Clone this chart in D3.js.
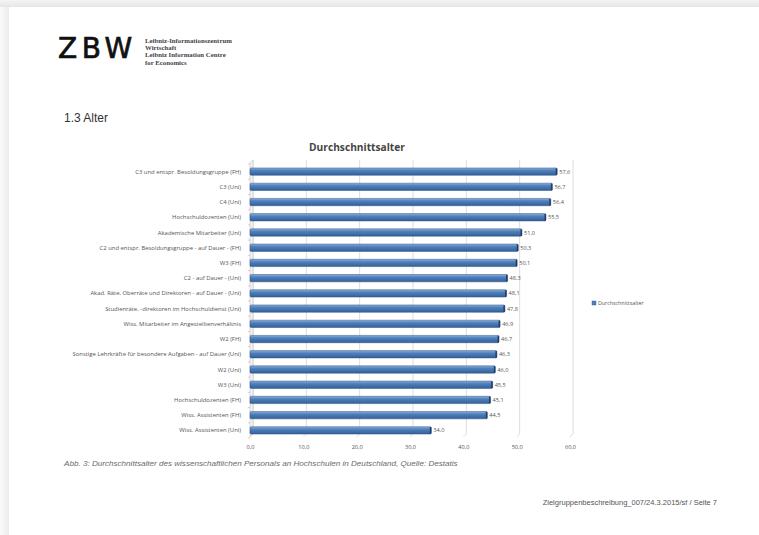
<!DOCTYPE html>
<html>
<head>
<meta charset="utf-8">
<script src="https://cdn.jsdelivr.net/npm/d3@7"></script>
<style>
  html, body { margin: 0; padding: 0; background: #fff; }
  svg { display: block; }
</style>
</head>
<body>
<svg id="page" width="759" height="535"></svg>
<script>
// categories top to bottom, as in the chart
const categories = [
  'C3 und entspr. Besoldungsgruppe (FH)',
  'C3 (Uni)',
  'C4 (Uni)',
  'Hochschuldozenten (Uni)',
  'Akademische Mitarbeiter (Uni)',
  'C2 und entspr. Besoldungsgruppe - auf Dauer - (FH)',
  'W3 (FH)',
  'C2 - auf Dauer - (Uni)',
  'Akad. Räte, Oberräte und Direktoren - auf Dauer - (Uni)',
  'Studienräte, -direktoren im Hochschuldienst (Uni)',
  'Wiss. Mitarbeiter im Angestelltenverhältnis',
  'W2 (FH)',
  'Sonstige Lehrkräfte für besondere Aufgaben - auf Dauer (Uni)',
  'W2 (Uni)',
  'W3 (Uni)',
  'Hochschuldozenten (FH)',
  'Wiss. Assistenten (FH)',
  'Wiss. Assistenten (Uni)'
];
const values = [57.6, 56.7, 56.4, 55.5, 51.0, 50.3, 50.1, 48.3, 48.1, 47.8, 46.9, 46.7, 46.3, 46.0, 45.5, 45.1, 44.5, 34.0];
const xTicks = [0, 10, 20, 30, 40, 50, 60];
const seriesName = 'Durchschnittsalter';

const fmt = v => d3.format('.1f')(v).replace('.', ',');

const svg = d3.select('#page');

// page edge shading
const defs = svg.append('defs');
const edgeTop = defs.append('linearGradient').attr('id', 'edgeTop').attr('x1', 0).attr('y1', 0).attr('x2', 0).attr('y2', 1);
edgeTop.append('stop').attr('offset', '0%').attr('stop-color', '#f4f4f4');
edgeTop.append('stop').attr('offset', '100%').attr('stop-color', '#e6e6e6');
const edgeLeft = defs.append('linearGradient').attr('id', 'edgeLeft').attr('x1', 0).attr('y1', 0).attr('x2', 1).attr('y2', 0);
edgeLeft.append('stop').attr('offset', '0%').attr('stop-color', '#fafafa');
edgeLeft.append('stop').attr('offset', '100%').attr('stop-color', '#ececec');
svg.append('rect').attr('x', 0).attr('y', 0).attr('width', 759).attr('height', 7).attr('fill', 'url(#edgeTop)');
svg.append('rect').attr('x', 0).attr('y', 7).attr('width', 9).attr('height', 528).attr('fill', 'url(#edgeLeft)');

// bar gradient (3D-ish cylinder look)
const barGrad = defs.append('linearGradient').attr('id', 'barGrad').attr('x1', 0).attr('y1', 0).attr('x2', 0).attr('y2', 1);
barGrad.append('stop').attr('offset', '0%').attr('stop-color', '#8fb0dc');
barGrad.append('stop').attr('offset', '35%').attr('stop-color', '#4f81bd');
barGrad.append('stop').attr('offset', '100%').attr('stop-color', '#345f96');

// logo
svg.append('text')
  .attr('x', 58).attr('y', 58)
  .attr('font-family', 'DejaVu Sans, sans-serif')
  .attr('font-size', 28)
  .attr('letter-spacing', 4.5)
  .attr('fill', '#111')
  .attr('stroke', '#111').attr('stroke-width', 0.7)
  .text('ZBW');
const logoLines = ['Leibniz-Informationszentrum', 'Wirtschaft', 'Leibniz Information Centre', 'for Economics'];
svg.append('g').selectAll('text')
  .data(logoLines)
  .join('text')
  .attr('x', 145)
  .attr('y', (d, i) => 42.5 + i * 7.4)
  .attr('font-family', 'Liberation Serif, serif')
  .attr('font-weight', 'bold')
  .attr('font-size', 6.8)
  .attr('fill', '#444')
  .text(d => d);

// section heading
svg.append('text')
  .attr('x', 64).attr('y', 122)
  .attr('font-family', 'Liberation Sans, Arial, sans-serif')
  .attr('font-size', 12)
  .attr('fill', '#333')
  .text('1.3 Alter');

// chart title
svg.append('text')
  .attr('x', 357).attr('y', 151)
  .attr('text-anchor', 'middle')
  .attr('font-family', 'Open Sans, sans-serif')
  .attr('font-weight', 'bold')
  .attr('font-size', 10.2)
  .attr('fill', '#444')
  .text('Durchschnittsalter');

// scales
const x = d3.scaleLinear().domain([0, 60]).range([250, 570]);
const y = d3.scaleBand().domain(categories).range([164, 438]).paddingInner(0.52).paddingOuter(0.26);

const plotTop = 160, plotBottom = 437, depth = 3;

// back-wall gridlines
const grid = svg.append('g');
grid.selectAll('line')
  .data(xTicks)
  .join('line')
  .attr('x1', d => x(d) + depth).attr('x2', d => x(d) + depth)
  .attr('y1', plotTop).attr('y2', plotBottom - depth)
  .attr('stroke', '#d4d4d4').attr('stroke-width', 0.8);
// floor diagonals
grid.selectAll('path')
  .data(xTicks)
  .join('path')
  .attr('d', d => `M${x(d)},${plotBottom}L${x(d) + depth},${plotBottom - depth}`)
  .attr('stroke', '#d4d4d4').attr('stroke-width', 0.8).attr('fill', 'none');
// left wall
svg.append('path')
  .attr('d', `M${x(0)},${plotTop + depth}L${x(0) + depth},${plotTop}L${x(0) + depth},${plotBottom - depth}L${x(0)},${plotBottom}Z`)
  .attr('fill', '#f3f3f3').attr('stroke', '#c8c8c8').attr('stroke-width', 0.7);
// left-axis ticks between categories
svg.append('g').selectAll('line')
  .data(d3.range(categories.length + 1))
  .join('line')
  .attr('x1', x(0) - 2).attr('x2', x(0))
  .attr('y1', i => 164 + i * y.step()).attr('y2', i => 164 + i * y.step())
  .attr('stroke', '#c9a27a').attr('stroke-width', 0.5);

// bars
const bars = svg.append('g');
bars.selectAll('rect')
  .data(values)
  .join('rect')
  .attr('x', x(0))
  .attr('y', (d, i) => y(categories[i]))
  .attr('width', d => x(d) - x(0))
  .attr('height', y.bandwidth())
  .attr('rx', 1.2)
  .attr('fill', 'url(#barGrad)')
  .attr('stroke', '#2c5383').attr('stroke-width', 0.5);
// dark end caps
bars.selectAll('line')
  .data(values)
  .join('line')
  .attr('x1', d => x(d) - 0.8).attr('x2', d => x(d) - 0.8)
  .attr('y1', (d, i) => y(categories[i]) + 0.3)
  .attr('y2', (d, i) => y(categories[i]) + y.bandwidth() - 0.3)
  .attr('stroke', '#1f3d66').attr('stroke-width', 1.4);

// value labels
svg.append('g').selectAll('text')
  .data(values)
  .join('text')
  .attr('x', d => x(d) + 2)
  .attr('y', (d, i) => y(categories[i]) + y.bandwidth() / 2 + 2)
  .attr('font-family', 'Open Sans, sans-serif')
  .attr('font-size', 5.6)
  .attr('fill', '#555')
  .text(d => fmt(d));

// category labels
svg.append('g').selectAll('text')
  .data(categories)
  .join('text')
  .attr('x', 241)
  .attr('y', d => y(d) + y.bandwidth() / 2 + 2)
  .attr('text-anchor', 'end')
  .attr('font-family', 'Open Sans, sans-serif')
  .attr('font-size', 5.9)
  .attr('fill', '#555')
  .text(d => d);

// x axis labels
const xAxis = svg.append('g')
  .attr('transform', `translate(0,${plotBottom + 2})`)
  .call(d3.axisBottom(x).tickValues(xTicks).tickFormat(fmt).tickSize(0).tickPadding(6));
xAxis.select('.domain').remove();
xAxis.selectAll('text')
  .attr('font-family', 'Open Sans, sans-serif')
  .attr('font-size', 5.6)
  .attr('fill', '#555');

// legend
const legend = svg.append('g').attr('transform', 'translate(592,301)');
legend.append('rect').attr('width', 4).attr('height', 4).attr('fill', '#4f81bd').attr('stroke', '#2c5383').attr('stroke-width', 0.4);
legend.append('text')
  .attr('x', 6).attr('y', 4)
  .attr('font-family', 'Open Sans, sans-serif')
  .attr('font-size', 5.3)
  .attr('fill', '#555')
  .text(seriesName);

// caption
svg.append('text')
  .attr('x', 64).attr('y', 466)
  .attr('font-family', 'Liberation Sans, Arial, sans-serif')
  .attr('font-style', 'italic')
  .attr('font-size', 8.1)
  .attr('fill', '#6a6a6a')
  .text('Abb. 3: Durchschnittsalter des wissenschaftlichen Personals an Hochschulen in Deutschland, Quelle: Destatis');

// footer
svg.append('text')
  .attr('x', 717).attr('y', 505)
  .attr('text-anchor', 'end')
  .attr('font-family', 'Liberation Sans, Arial, sans-serif')
  .attr('font-size', 7.5)
  .attr('fill', '#555')
  .text('Zielgruppenbeschreibung_007/24.3.2015/sf / Seite 7');
</script>
</body>
</html>
